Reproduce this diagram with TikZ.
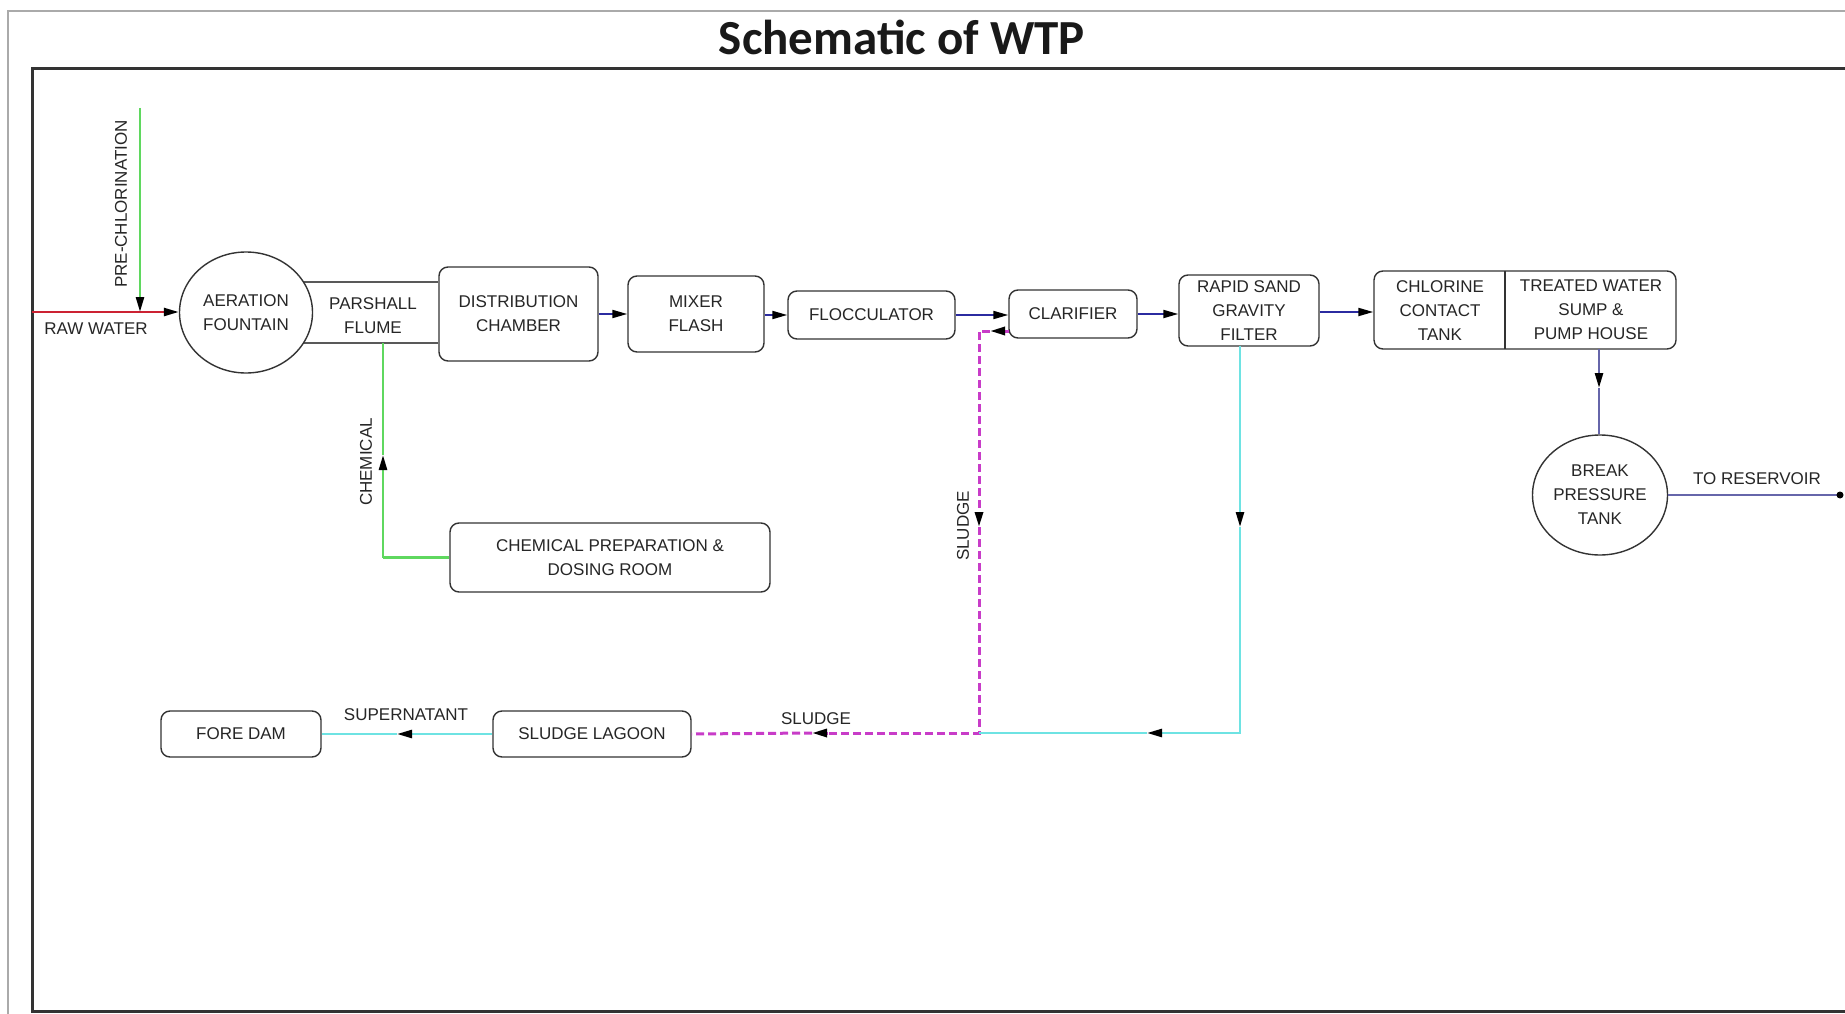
\documentclass[tikz,border=0pt]{standalone}
\usepackage{fontspec}
\setmainfont{Liberation Sans}
\newfontfamily\titlefont{Carlito}
\usetikzlibrary{arrows.meta,shapes.geometric,calc}
\definecolor{rawred}{HTML}{CC2233}
\definecolor{chemgreen}{HTML}{5FD85F}
\definecolor{flowblue}{HTML}{2B2BA0}
\definecolor{cyanline}{HTML}{6EE3E3}
\definecolor{sludgemag}{HTML}{C83CC8}
\definecolor{outblue}{HTML}{6666AA}
\definecolor{boxgray}{HTML}{333333}
\definecolor{framegray}{HTML}{AAAAAA}
\begin{document}
\begin{tikzpicture}[x=1pt,y=-1pt,
  lbl/.style={font=\fontsize{17}{24}\selectfont, text=black!85, inner sep=0pt, align=center},
  box/.style={lbl, draw=boxgray, line width=1.4pt, rounded corners=9pt},
  tank/.style={lbl, ellipse, draw=boxgray, line width=1.4pt, fill=white},
  tipblack/.style={-{Triangle[length=15pt,width=8pt,color=black]}},
  bluel/.style={draw=flowblue, line width=2pt},
  redl/.style={draw=rawred, line width=2.5pt},
  greenl/.style={draw=chemgreen, line width=2.5pt},
  cyanl/.style={draw=cyanline, line width=2.5pt},
  magl/.style={draw=sludgemag, line width=3pt, dash pattern=on 8pt off 4pt},
  outl/.style={draw=outblue, line width=2.5pt},
  flume/.style={draw=black!65, line width=2pt}
]
\useasboundingbox (0,0) rectangle (1845,1014);
\fill[white] (0,0) rectangle (1845,1014);
% frames
\draw[framegray, line width=2pt] (1845,11) -- (8,11) -- (8,1014);
\draw[black!80, line width=3pt] (1845,69) -- (32,69) -- (32,1011) -- (1845,1011);
% title
\node[font=\titlefont\bfseries\fontsize{49}{52}\selectfont, text=black!90, inner sep=0pt] (title) at (902,37) {Schematic of WTP};

% top row boxes
\node[box, minimum width=159pt, minimum height=94pt] (dist) at (518.5,314) {DISTRIBUTION\\CHAMBER};
\draw[flume] (246,282) -- (dist.west |- 0,282);
\draw[flume] (246,343) -- (dist.west |- 0,343);
\node[tank, minimum width=133pt, minimum height=121pt] (aer) at (246,312.5) {AERATION\\FOUNTAIN};
\node[lbl] (pf) at (373,316) {PARSHALL\\FLUME};
\node[box, minimum width=136pt, minimum height=76pt] (mix) at (696,314) {MIXER\\FLASH};
\node[box, minimum width=167pt, minimum height=48pt] (floc) at (871.5,315) {FLOCCULATOR};
\node[box, minimum width=128pt, minimum height=48pt] (clar) at (1073,314) {CLARIFIER};
\node[box, minimum width=140pt, minimum height=71pt] (filt) at (1249,310.5) {RAPID SAND\\GRAVITY\\FILTER};
\node[box, minimum width=302pt, minimum height=78pt] (ctbox) at (1525,310) {};
\draw[boxgray, line width=1.4pt] (1505,271) -- (1505,349);
\node[lbl] (chl) at (1440,311) {CHLORINE\\CONTACT\\TANK};
\node[lbl] (tw) at (1591,310) {TREATED WATER\\SUMP \&\\PUMP HOUSE};
\node[tank, minimum width=135pt, minimum height=120pt] (bpt) at (1600,495) {BREAK\\PRESSURE\\TANK};

% raw water & prechlorination
\coordinate (rawin) at (32,312);
\coordinate (pcin) at (140,108);
\coordinate (pcj) at (140,312);
\draw[redl, tipblack] (rawin) -- (aer.west |- rawin);
\draw[greenl, tipblack] (pcin) -- (pcj);
\node[lbl, rotate=90] (pclbl) at (121,204) {PRE-CHLORINATION};
\node[lbl] (rawlbl) at (96,329) {RAW WATER};

% main flow
\draw[bluel, tipblack] (dist.east) -- (mix.west);
\draw[bluel, tipblack] (mix.east |- floc.east) -- (floc.west);
\draw[bluel, tipblack] (floc.east) -- (floc.east -| clar.west);
\draw[bluel, tipblack] (clar.east) -- (clar.east -| filt.west);
\draw[bluel, tipblack] (filt.east |- 0,312) -- (ctbox.west |- 0,312);

% treated water to break pressure tank
\coordinate (twb) at (1599,349);
\coordinate (bptarr) at (1599,388);
\draw[outl, tipblack] (twb) -- (bptarr);
\draw[outl] (bptarr) -- (bptarr |- bpt.north);
\coordinate (res) at (1840,495);
\draw[outl] (bpt.east) -- (res);
\fill[black] (res) circle (3.5pt);
\node[lbl] (reslbl) at (1757,479) {TO RESERVOIR};

% chemical dosing
\node[box, minimum width=320pt, minimum height=69pt] (dose) at (610,557.5) {CHEMICAL PREPARATION \&\\DOSING ROOM};
\coordinate (chemcorner) at (383,557.5);
\coordinate (chemarr) at (383,455);
\coordinate (pfb) at (383,343);
\draw[greenl] (dose.west) -- (chemcorner);
\draw[greenl, tipblack] (chemcorner) -- (chemarr);
\draw[greenl] (chemarr) -- (pfb);
\node[lbl, rotate=90] (chemlbl) at (366,462) {CHEMICAL};

% lower row
\node[box, minimum width=160pt, minimum height=46pt] (fore) at (241,734) {FORE DAM};
\node[box, minimum width=198pt, minimum height=46pt] (lag) at (592,734) {SLUDGE LAGOON};
\coordinate (suparr) at (397,734);
\draw[cyanl, tipblack] (lag.west) -- (suparr);
\draw[cyanl] (suparr) -- (fore.east);
\node[lbl] (suplbl) at (406,715) {SUPERNATANT};

% sludge from clarifier
\coordinate (clarout) at (1009,331);
\coordinate (sla) at (990,331);
\coordinate (slb) at (979,331);
\coordinate (slc) at (979,527);
\coordinate (sj) at (979,733);
\coordinate (sld) at (812,733);
\draw[sludgemag, line width=3pt, tipblack] (clarout) -- (sla);
\draw[magl] (sla) -- (slb) -- (979,514);
\draw[sludgemag, line width=3pt, tipblack] (979,512) -- (slc);
\draw[magl] (slc) -- (sj) -- (826,733);
\draw[sludgemag, line width=3pt, tipblack] (828,733) -- (sld);
\draw[magl] (sld) -- (lag.east);
\node[lbl, rotate=90] (sllbl1) at (963,526) {SLUDGE};
\node[lbl] (sllbl2) at (816,719) {SLUDGE};

% backwash from filter
\coordinate (fb) at (1240,346);
\coordinate (fa) at (1240,527);
\coordinate (fc) at (1240,733);
\coordinate (fd) at (1147,733);
\draw[cyanl, tipblack] (fb) -- (fa);
\draw[cyanl, tipblack] (fa) -- (fc) -- (fd);
\draw[cyanl] (fd) -- (sj);
\end{tikzpicture}
\end{document}
